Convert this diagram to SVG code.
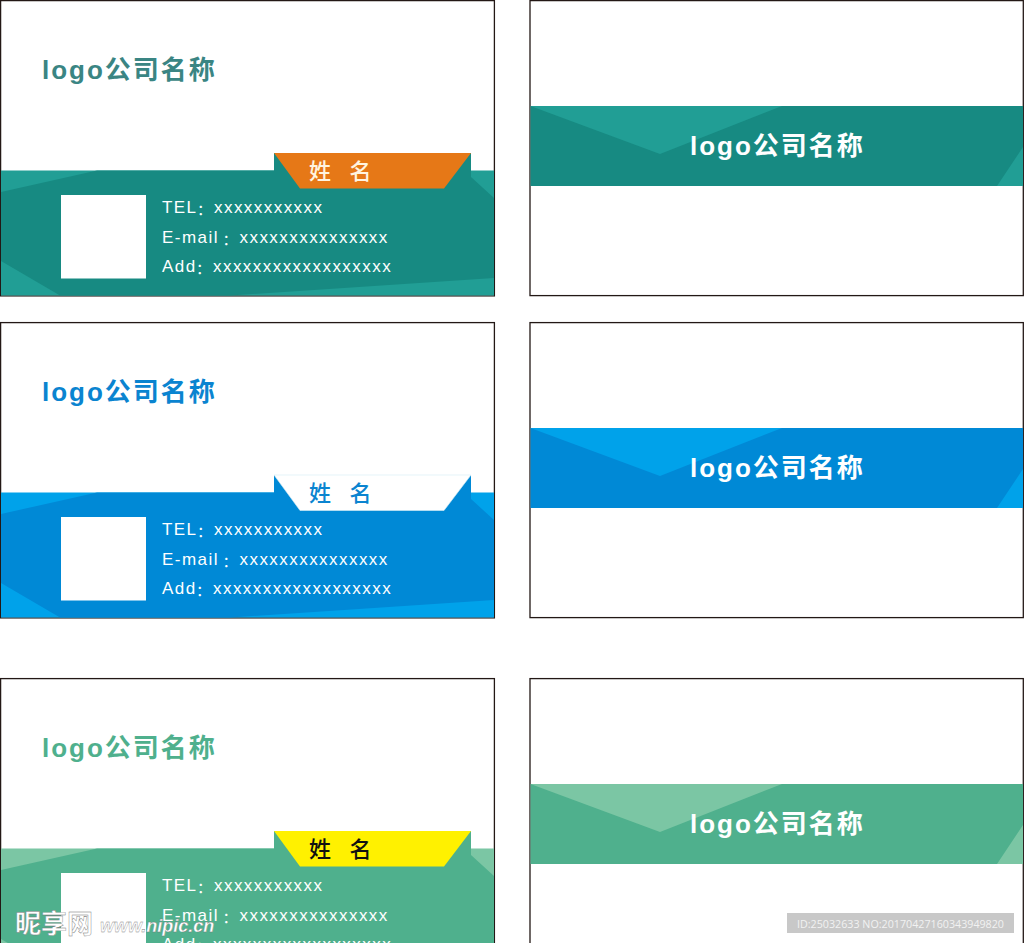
<svg xmlns="http://www.w3.org/2000/svg" width="1024" height="943" viewBox="0 0 1024 943">
<style>
text{font-family:"Liberation Sans","Noto Sans CJK SC",sans-serif}
.b{fill:#fff;stroke:#231815;stroke-width:1.3}
.logo{font-size:26px;font-weight:700;letter-spacing:2px}
.info{font-size:17px;fill:#fff;letter-spacing:1.45px}
.nm{font-size:22px;font-weight:500;font-family:"Noto Sans CJK SC",sans-serif}
.colon{font-size:15px}
.t{--d:#178a82;--l:#219e95;--c:#3a8583}
.s{--d:#0089d6;--l:#00a2ea;--c:#0a84d0}
.g{--d:#4fb08d;--l:#7bc6a4;--c:#4fb08d}
.d{fill:var(--d)}.l{fill:var(--l)}.c{fill:var(--c)}
</style>
<rect width="1024" height="943" fill="#fff"/>
<defs>
<g id="frontBand">
<rect class="b" x="0.6" y="0.6" width="493.8" height="295.3"/>
<rect class="l" x="1" y="170.5" width="493" height="125"/>
<path class="d" d="M1 192L97 170.5H274V153H471V177L494 198V278L230 295.5H60L1 261Z"/>
<rect fill="#fff" x="61" y="195" width="85" height="83.5"/>
</g>
<g id="frontText">
<text class="info" y="213"><tspan x="162">TEL</tspan><tspan class="colon" x="197" dy="2">：</tspan><tspan x="214" dy="-2">xxxxxxxxxxx</tspan></text>
<text class="info" y="242.5"><tspan x="162">E-mail</tspan><tspan class="colon" x="222.500" dy="2">：</tspan><tspan x="239.5" dy="-2">xxxxxxxxxxxxxxx</tspan></text>
<text class="info" y="271.5"><tspan x="162">Add</tspan><tspan class="colon" x="196" dy="2">：</tspan><tspan x="213" dy="-2">xxxxxxxxxxxxxxxxxx</tspan></text>
</g>
<g id="backBand">
<rect class="b" x="530" y="0.6" width="493.3" height="295"/>
<rect class="d" x="530.5" y="106" width="492.5" height="80"/>
<path class="l" d="M530.5 106H782L660 154ZM1023 147V186H997Z"/>
</g>
</defs>
<g id="card-teal-front" class="t">
<use href="#frontBand"/>
<text class="logo c" x="42" y="79">logo公司名称</text>
<path d="M274 153H471L444 188.500H300Z" fill="#e67817"/>
<text class="nm" x="309" y="179" fill="#fff4e0">姓</text><text class="nm" x="349.5" y="179" fill="#fff4e0">名</text>
<use href="#frontText"/>
</g>
<g id="card-teal-back" class="t">
<use href="#backBand"/>
<text class="logo" fill="#fff" x="690" y="155">logo公司名称</text>
</g>
<g id="card-blue-front" class="s" transform="translate(0 322)">
<use href="#frontBand"/>
<text class="logo c" x="42" y="79">logo公司名称</text>
<path d="M274 153H471L444 188.500H300Z" fill="#fff" stroke="#d5ecf5" stroke-width="0.6"/>
<text class="nm" x="309" y="179" fill="#0a84d0">姓</text><text class="nm" x="349.5" y="179" fill="#0a84d0">名</text>
<use href="#frontText"/>
</g>
<g id="card-blue-back" class="s" transform="translate(0 322)">
<use href="#backBand"/>
<text class="logo" fill="#fff" x="690" y="155">logo公司名称</text>
</g>
<g id="card-green-front" class="g" transform="translate(0 678)">
<use href="#frontBand"/>
<text class="logo c" x="42" y="79">logo公司名称</text>
<path d="M274 153H471L444 188.500H300Z" fill="#fff100"/>
<text class="nm" x="309" y="179" fill="#111">姓</text><text class="nm" x="349.5" y="179" fill="#111">名</text>
<use href="#frontText"/>
</g>
<g id="card-green-back" class="g" transform="translate(0 678)">
<use href="#backBand"/>
<text class="logo" fill="#fff" x="690" y="155">logo公司名称</text>
</g>
<g id="watermark">
<text x="15" y="933" font-size="26" font-weight="700" fill="#fff" style="font-family:'Noto Sans CJK SC',sans-serif" stroke="#777" stroke-width="0.4">昵享网</text>
<text x="100" y="932" font-size="18" font-weight="700" font-style="italic" fill="#fff" stroke="#777" stroke-width="0.3">www.nipic.cn</text>
<rect x="787" y="913" width="227" height="20" fill="#c8c8c8"/>
<text x="797" y="927.5" font-size="11.5" textLength="207" lengthAdjust="spacingAndGlyphs" fill="#f2f2f2" style="font-family:'Open Sans',sans-serif">ID:25032633 NO:20170427160343949820</text>
</g>
</svg>
